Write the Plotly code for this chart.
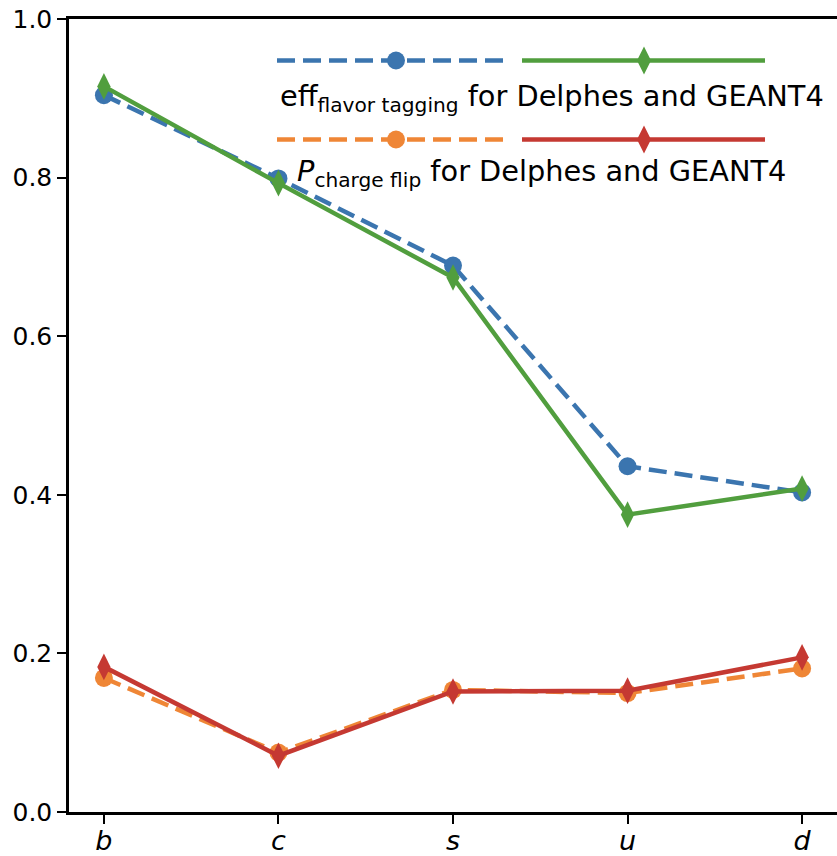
import plotly.graph_objects as go

quarks = ["b", "c", "s", "u", "d"]
eff_delphes = [0.904, 0.799, 0.689, 0.436, 0.403]
eff_geant4 = [0.915, 0.793, 0.674, 0.375, 0.408]
flip_delphes = [0.169, 0.075, 0.154, 0.150, 0.181]
flip_geant4 = [0.183, 0.071, 0.152, 0.153, 0.195]
y_ticks = [0.0, 0.2, 0.4, 0.6, 0.8, 1.0]

BLUE = "#3b75af"
GREEN = "#519e3e"
ORANGE = "#ef8636"
RED = "#c53932"
FONT = "DejaVu Sans"

x = list(range(len(quarks)))
LW = 4.5
DASH = "18px,8px"

fig = go.Figure()
fig.add_trace(go.Scatter(x=x, y=eff_delphes, mode="lines+markers",
                         line=dict(color=BLUE, width=LW, dash=DASH),
                         marker=dict(symbol="circle", size=18, color=BLUE)))
fig.add_trace(go.Scatter(x=x, y=eff_geant4, mode="lines+markers",
                         line=dict(color=GREEN, width=LW),
                         marker=dict(symbol="diamond-tall", size=19, color=GREEN)))
fig.add_trace(go.Scatter(x=x, y=flip_delphes, mode="lines+markers",
                         line=dict(color=ORANGE, width=LW, dash=DASH),
                         marker=dict(symbol="circle", size=18, color=ORANGE)))
fig.add_trace(go.Scatter(x=x, y=flip_geant4, mode="lines+markers",
                         line=dict(color=RED, width=LW),
                         marker=dict(symbol="diamond-tall", size=19, color=RED)))

# ---- custom legend (paper coordinates) ----
L, W, T, H = 69, 768, 19, 793  # plot area in px
def px(xp):
    return (xp - L) / W
def py(yp):
    return (T + H - yp) / H

shapes = []
annotations = []
def legend_row(yrow, c_dash, c_solid):
    shapes.append(dict(type="line", xref="paper", yref="paper",
                       x0=px(277), x1=px(508), y0=py(yrow), y1=py(yrow),
                       line=dict(color=c_dash, width=LW, dash=DASH)))
    shapes.append(dict(type="line", xref="paper", yref="paper",
                       x0=px(522), x1=px(765), y0=py(yrow), y1=py(yrow),
                       line=dict(color=c_solid, width=LW)))
    shapes.append(dict(type="circle", xref="paper", yref="paper",
                       xsizemode="pixel", ysizemode="pixel",
                       xanchor=px(396), yanchor=py(yrow),
                       x0=-9, x1=9, y0=-9, y1=9,
                       fillcolor=c_dash, line=dict(width=0)))
    shapes.append(dict(type="path", xref="paper", yref="paper",
                       xsizemode="pixel", ysizemode="pixel",
                       xanchor=px(644), yanchor=py(yrow),
                       path="M0,14 L7,0 L0,-14 L-7,0 Z",
                       fillcolor=c_solid, line=dict(width=0)))

legend_row(60.5, BLUE, GREEN)
legend_row(139.5, ORANGE, RED)

annotations.append(dict(xref="paper", yref="paper", x=px(278), y=py(98),
                        xanchor="left", yanchor="middle", showarrow=False,
                        text="eff<sub>flavor tagging</sub> for Delphes and GEANT4",
                        font=dict(family=FONT, size=28.8, color="black")))
annotations.append(dict(xref="paper", yref="paper", x=px(295), y=py(173),
                        xanchor="left", yanchor="middle", showarrow=False,
                        text="<i>P</i><sub>charge flip</sub> for Delphes and GEANT4",
                        font=dict(family=FONT, size=28.8, color="black")))

fig.update_layout(
    width=837, height=856,
    margin=dict(l=L, r=837 - L - W, t=T, b=856 - T - H, autoexpand=False),
    plot_bgcolor="white", paper_bgcolor="white",
    showlegend=False,
    shapes=shapes, annotations=annotations,
    font=dict(family=FONT, size=25, color="black"),
    xaxis=dict(range=[-0.2, 4.2], tickvals=x, automargin=False,
               ticktext=[f"<i>{q}</i>" for q in quarks],
               showgrid=False, zeroline=False,
               showline=True, linecolor="black", linewidth=2.5, mirror=True,
               ticks="outside", ticklen=9, tickwidth=2, tickcolor="black",
               ticklabelstandoff=-6,
               tickfont=dict(family=FONT, size=27, color="black")),
    yaxis=dict(range=[0, 1.0], tickvals=y_ticks, automargin=False,
               ticktext=[f"{v:.1f}" for v in y_ticks],
               showgrid=False, zeroline=False,
               showline=True, linecolor="black", linewidth=2.5,
               ticks="outside", ticklen=9, tickwidth=2, tickcolor="black",
               tickfont=dict(family=FONT, size=25, color="black")),
)

fig.write_html("out.html")
